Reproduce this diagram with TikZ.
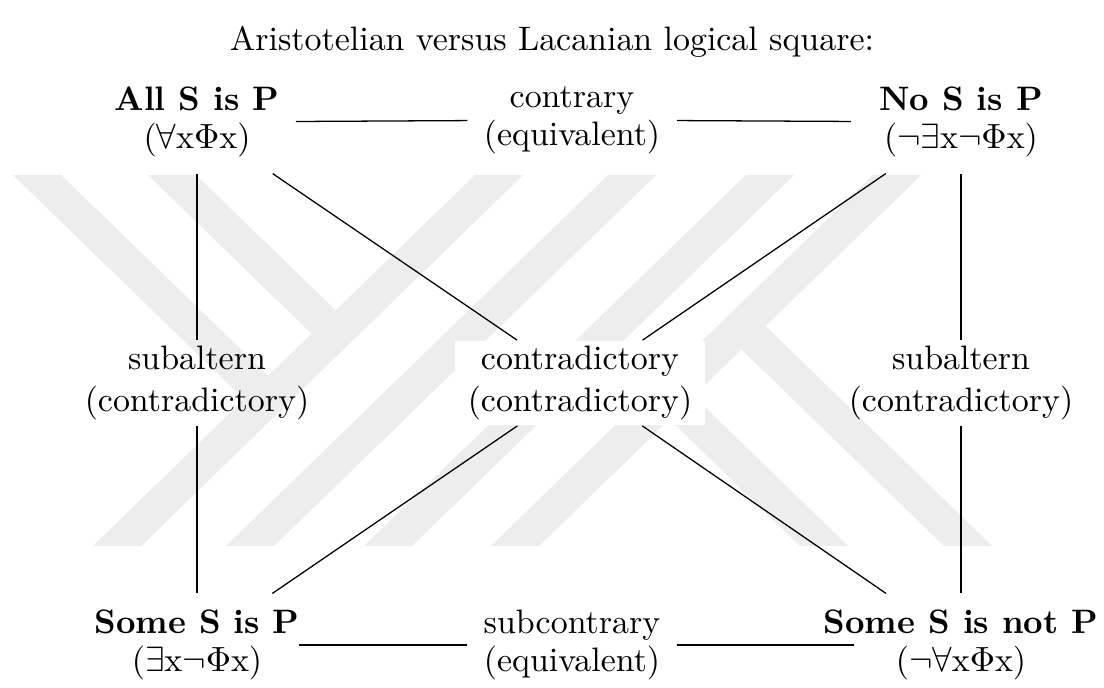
\documentclass[tikz,border=0pt]{standalone}
\begin{document}
\begin{tikzpicture}[x=0.3125pt, y=-0.3125pt, line join=round,
  font=\fontsize{10.6}{12}\selectfont,
  prop/.style={align=center, inner sep=5pt, font=\fontsize{10.6}{11.8}\selectfont},
  rel/.style={align=center, inner sep=5pt},
  mid/.style={rel, inner xsep=4pt, inner ysep=1.5pt, font=\fontsize{10.6}{13.4}\selectfont},
  band/.style={line width=10.5pt, draw=black!7}]
\useasboundingbox (0,0) rectangle (1104,687);
% watermark
\begin{scope}
\clip (0,175) rectangle (1104,545);
\foreach \b in {118,251,389,516}
  \draw[band] (\b-20.6,565) -- (\b+401.7,155);
\draw[band] (16.4,155) -- (268,399);
\draw[band] (151.4,155) -- (335,333);
\draw[band] (669.5,396) -- (843.6,565);
\draw[band] (741.5,326) -- (987.6,565);
\end{scope}
\node (title) at (552,42) {Aristotelian versus Lacanian logical square:};
\node[prop] (all) at (197,122) {\textbf{All S is P}\\(\(\forall\)x\(\Phi\)x)};
\node[prop] (no) at (961,122) {\textbf{No S is P}\\(\(\neg\exists\)x\(\neg\Phi\)x)};
\node[prop] (some) at (197,645) {\textbf{Some S is P}\\(\(\exists\)x\(\neg\Phi\)x)};
\node[prop] (somenot) at (961,645) {\textbf{Some S is not P}\\(\(\neg\forall\)x\(\Phi\)x)};
\node[rel] (contrary) at (572,120) {contrary\\(equivalent)};
\node[rel] (subcontrary) at (572,645) {subcontrary\\(equivalent)};
\node[mid] (subl) at (197,383) {subaltern\\(contradictory)};
\node[mid] (subr) at (961,383) {subaltern\\(contradictory)};
\node[mid, fill=white] (contra) at (580,383) {contradictory\\(contradictory)};
\draw (all) -- (contrary);
\draw[shorten >=3.7pt] (contrary) -- (no);
\draw[shorten <=-5.3pt] (some) -- (subcontrary);
\draw[shorten >=-14.5pt] (subcontrary) -- (somenot);
\draw (all) -- (subl) -- (some);
\draw (no) -- (subr) -- (somenot);
\draw (all) -- (contra) -- (somenot);
\draw (no) -- (contra) -- (some);
\end{tikzpicture}
\end{document}
